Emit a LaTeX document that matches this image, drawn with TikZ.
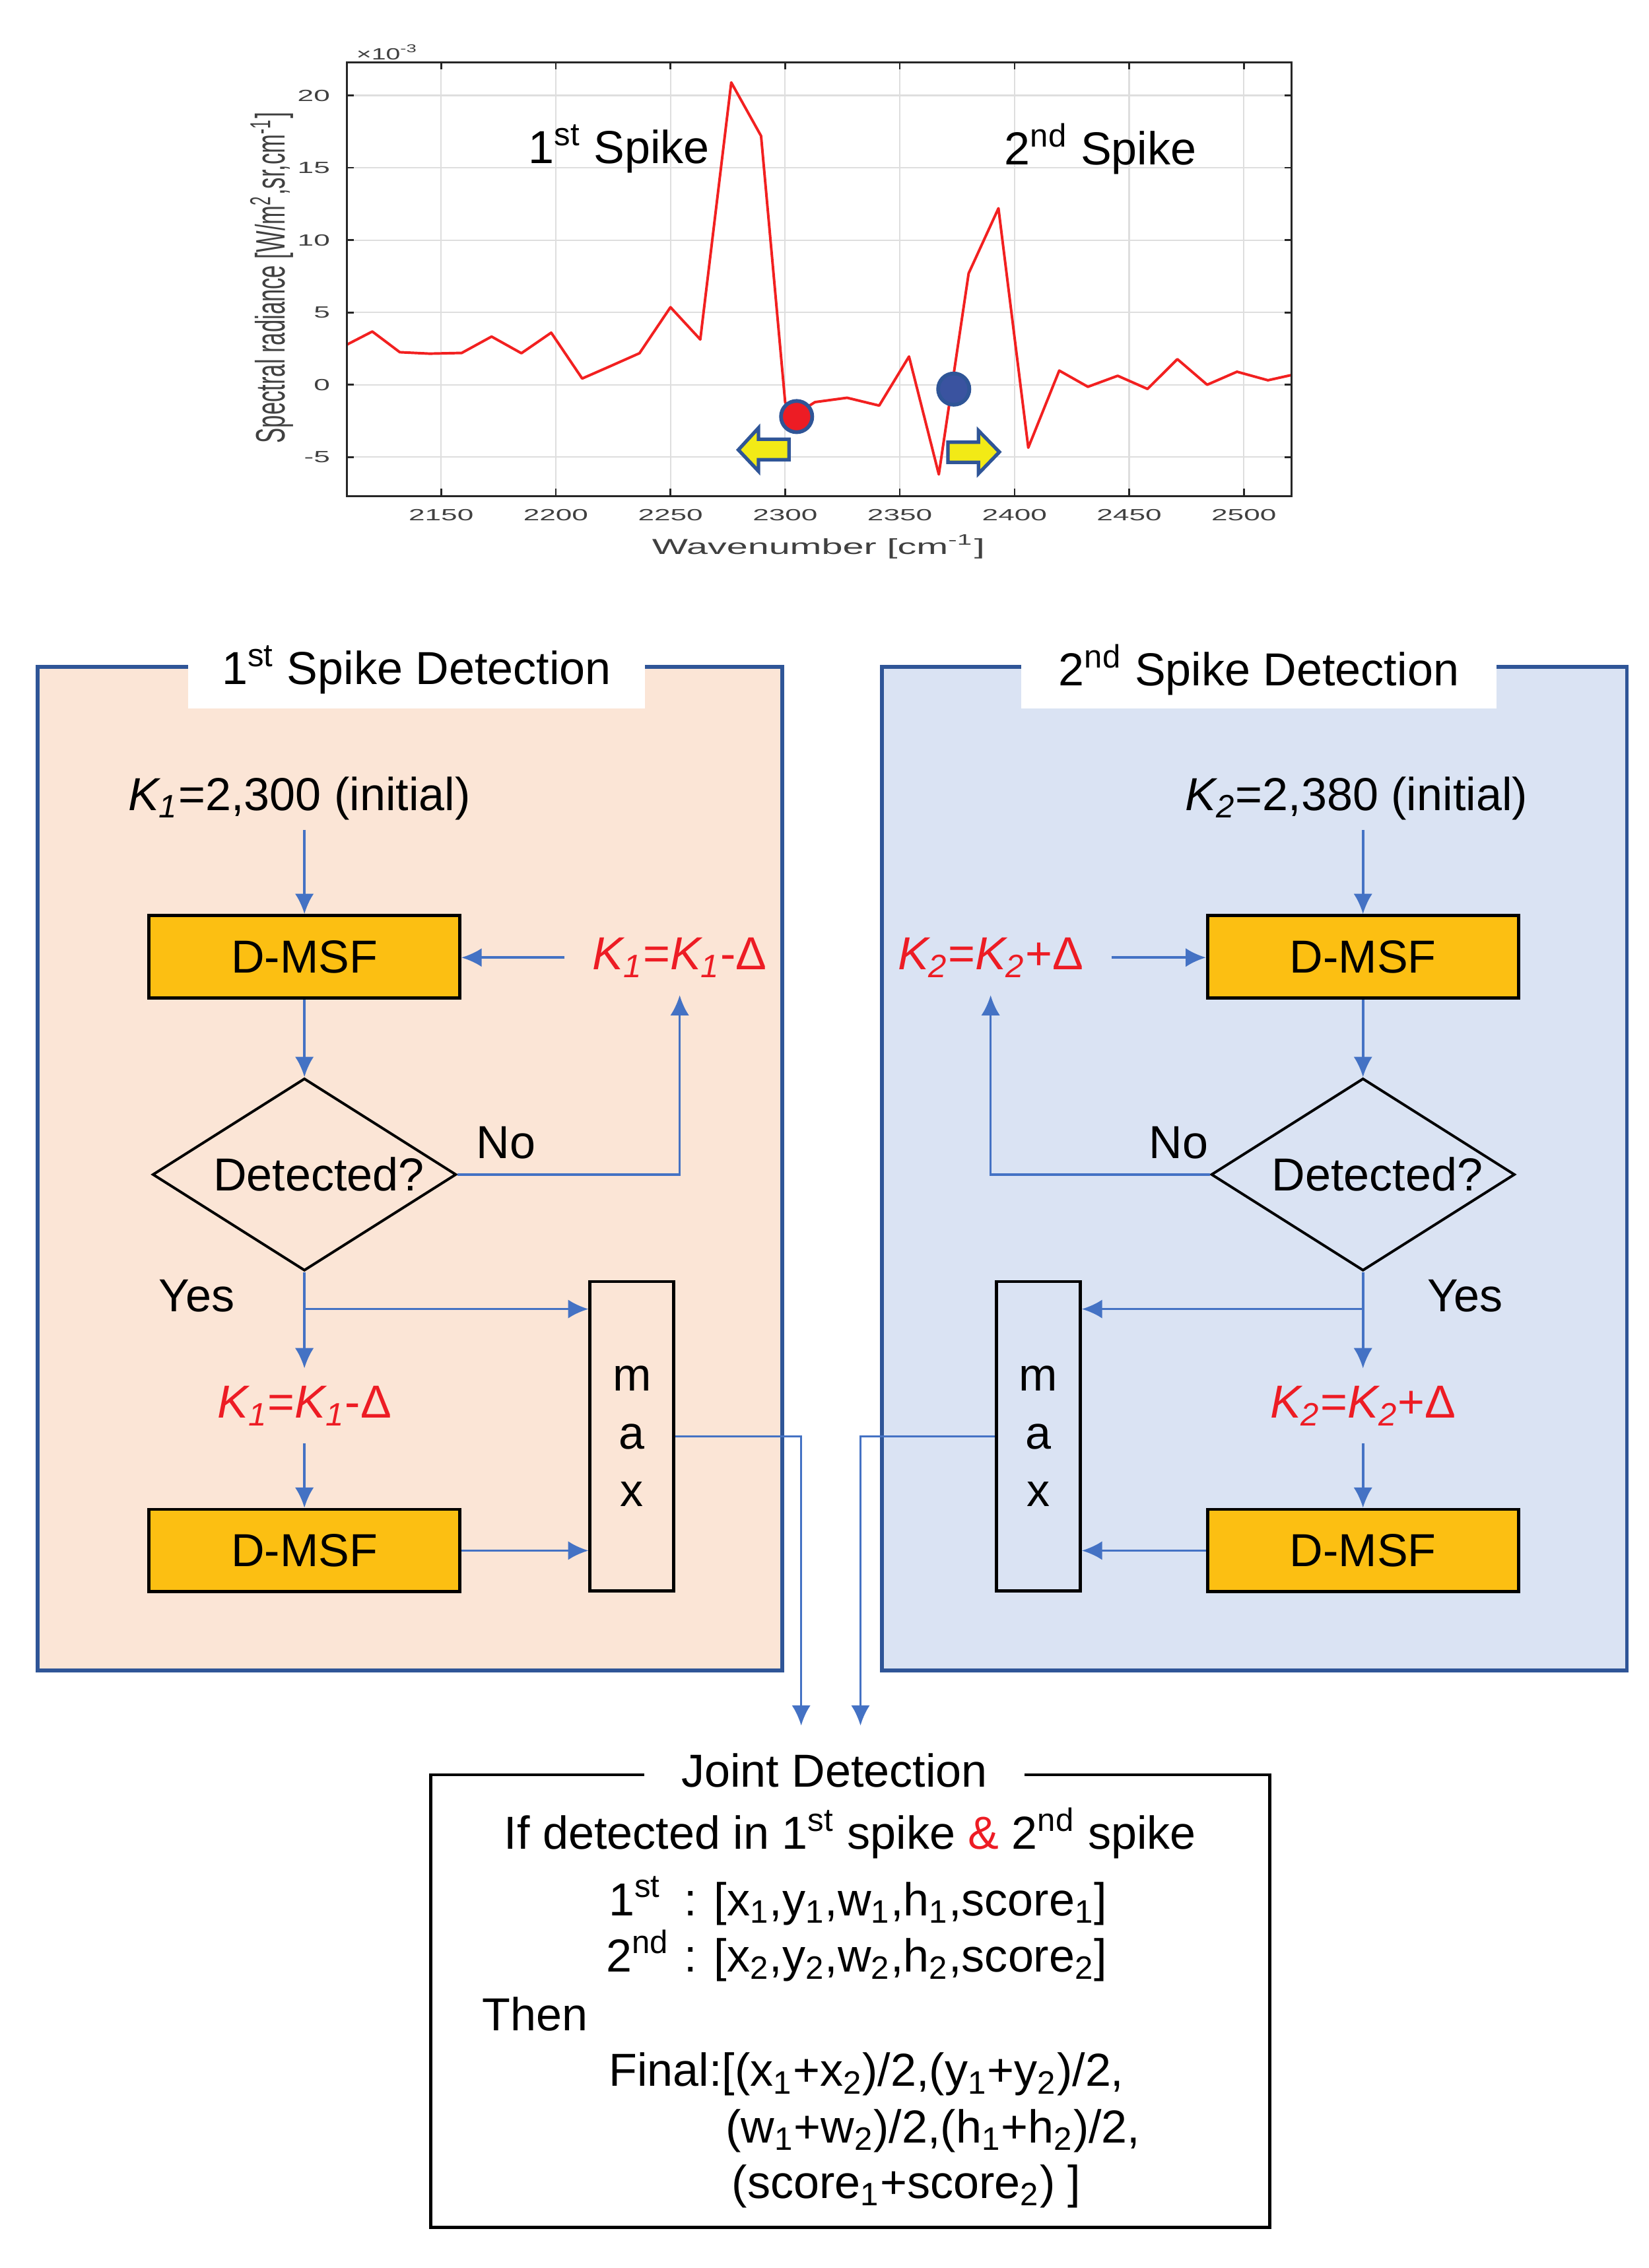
\documentclass[tikz,border=0pt]{standalone}
\usepackage{fontspec}
\setmainfont{Liberation Sans}
\usetikzlibrary{shapes.geometric,arrows.meta,positioning}

\definecolor{peach}{RGB}{251,229,214}
\definecolor{paleblue}{RGB}{218,227,243}
\definecolor{frameblue}{RGB}{47,85,151}
\definecolor{flowblue}{RGB}{68,114,196}
\definecolor{msfyellow}{RGB}{252,191,18}
\definecolor{alertred}{RGB}{237,28,36}
\definecolor{curvered}{RGB}{242,32,32}
\definecolor{arrowyellow}{RGB}{242,234,22}
\definecolor{dotblue}{RGB}{58,83,160}
\definecolor{axisgray}{RGB}{38,38,38}
\definecolor{labelgray}{RGB}{64,64,64}
\definecolor{gridgray}{RGB}{222,222,222}

\tikzset{
  panel/.style={draw=frameblue, line width=1.3pt},
  paneltitle/.style={fill=white, minimum height=27pt, inner sep=0pt},
  msf/.style={draw=black, line width=1.1pt, fill=msfyellow, minimum width=107.5pt, minimum height=28.5pt},
  detect/.style={diamond, draw=black, line width=0.9pt, aspect=1.58, inner sep=0pt, minimum width=105pt, minimum height=66.5pt},
  update/.style={text=alertred, inner xsep=9.5pt, inner ysep=6pt},
  maxbox/.style={draw=black, line width=1.1pt, minimum width=29pt, minimum height=107pt, align=center, font=\fontsize{16}{20}\selectfont},
  flow/.style={draw=flowblue, line width=0.8pt, ->},
  jointframe/.style={draw=black, line width=1.1pt},
  jtext/.style={anchor=base west, inner sep=0pt},
  gridline/.style={draw=gridgray, line width=0.5pt},
  axisline/.style={draw=axisgray, line width=0.6pt},
  ticklabel/.style={text=labelgray, font=\fontsize{5.6}{7}\selectfont},
  spectrum/.style={draw=curvered, line width=0.9pt, line join=round},
  shiftarrow/.style={fill=arrowyellow, draw=frameblue, line width=1.2pt, line join=miter},
}

\begin{document}
\begin{tikzpicture}[x=0.5pt,y=-0.5pt,>={Latex[length=7pt,width=6.5pt]},font=\fontsize{16}{19}\selectfont]
\useasboundingbox (0,0) rectangle (1140,1568);

% spectrum plot
\begin{scope}[shift={(240,266)},x=0.793pt,y=5pt,shift={(-2109,0)}]
\foreach \w in {2150,2200,...,2500}
  \draw[gridline] (\w,-7.7) -- (\w,22.3);
\foreach \v in {-5,0,...,20}
  \draw[gridline] (2109,\v) -- (2520.7,\v);
\draw[spectrum] (2109,2.78) -- (2120,3.68) -- (2132,2.25) -- (2145,2.15) -- (2159,2.2)
  -- (2172,3.33) -- (2185,2.18) -- (2198,3.6) -- (2211.5,0.43) -- (2224,1.3)
  -- (2236.5,2.18) -- (2250,5.36) -- (2263,3.13) -- (2276.5,20.9) -- (2289.5,17.2)
  -- (2300,-1.2) -- (2303,-2.2) -- (2313,-1.2) -- (2327,-0.9) -- (2341,-1.44)
  -- (2354,1.95) -- (2367,-6.2) -- (2380,7.7) -- (2393,12.2) -- (2406,-4.35)
  -- (2419.5,0.98) -- (2432,-0.14) -- (2445,0.62) -- (2458,-0.29) -- (2471,1.77)
  -- (2484,0) -- (2497,0.9) -- (2510.5,0.31) -- (2520.7,0.67);
\draw[axisline] (2109,-7.7) rectangle (2520.7,22.3);
\foreach \w in {2150,2200,...,2500} {
  \draw[axisline] (\w,-7.7) -- ++(0,0.5) (\w,22.3) -- ++(0,-0.5);
  \node[ticklabel] at (\w,-9) {\scalebox{1.8}[1]{\w}};
}
\foreach \v in {-5,0,...,20} {
  \draw[axisline] (2109,\v) -- ++(3,0) (2520.7,\v) -- ++(-3,0);
  \node[ticklabel,anchor=east] at (2106,\v) {\scalebox{1.8}[1]{\v}};
}
% search start points and directions
\filldraw[fill=alertred, draw=frameblue, line width=1.3pt] (2305,-2.2) circle[radius=5.4pt];
\filldraw[fill=dotblue, draw=frameblue, line width=1.3pt] (2373.5,-0.3) circle[radius=5.4pt];
\filldraw[shiftarrow] (2279.6,-4.5) -- (2288.4,-2.98) -- (2288.4,-3.77) -- (2301.7,-3.77)
  -- (2301.7,-5.18) -- (2288.4,-5.18) -- (2288.4,-5.98) -- cycle;
\filldraw[shiftarrow] (2371,-3.97) -- (2384.3,-3.97) -- (2384.3,-3.17) -- (2393.4,-4.65)
  -- (2384.3,-6.14) -- (2384.3,-5.36) -- (2371,-5.36) -- cycle;
\end{scope}
\node[ticklabel] (expo) at (268,36) {\scalebox{1.6}[1]{×10\textsuperscript{-3}}};
\node[text=labelgray, rotate=90, font=\fontsize{7.9}{9}\selectfont] (ylab) at (188,192)
  {\scalebox{1}[1.8]{Spectral radiance [W/m\textsuperscript{2},sr,cm\textsuperscript{-1}]}};
\node[text=labelgray, font=\fontsize{7.5}{9}\selectfont] (xlab) at (566,378)
  {\scalebox{1.75}[1]{Wavenumber [cm\textsuperscript{-1}]}};
\node (spike1) at (428,103) {1\textsuperscript{st} Spike};
\node (spike2) at (761,103) {2\textsuperscript{nd} Spike};

% 1st spike detection
\draw[panel, fill=peach] (26,461) rectangle (541,1155);
\node[paneltitle, minimum width=158pt] (title1) at (288,463) {1\textsuperscript{st} Spike Detection};
\node (init1) at (207,552) {\textit{K\textsubscript{1}}=2,300 (initial)};
\node[msf] (msf1) at (210.5,661.5) {D-MSF};
\node[update] (dec1) at (470,662) {\textit{K\textsubscript{1}}=\textit{K\textsubscript{1}}-Δ};
\node[detect] (det1) at (210.5,812) {\hspace*{10pt}Detected?};
\node (no1) at (350,790) {No};
\node (yes1) at (136,896) {Yes};
\node[update] (dec1b) at (210.5,972) {\textit{K\textsubscript{1}}=\textit{K\textsubscript{1}}-Δ};
\node[msf] (msf1b) at (210.5,1072) {D-MSF};
\node[maxbox] (max1) at (437,993) {m\\a\\x};
\coordinate (split1) at (210.5,905);
\coordinate (in1) at (554,1193);
\draw[flow] (init1.south -| msf1.north) -- (msf1.north);
\draw[flow] (dec1.west) -- (dec1.west -| msf1.east);
\draw[flow] (msf1.south) -- (det1.north);
\draw[flow] (det1.east) -| (dec1.south);
\draw[flow] (det1.south) -- (dec1b.north);
\draw[flow] (split1) -- (split1 -| max1.west);
\draw[flow] (dec1b.south) -- (msf1b.north);
\draw[flow] (msf1b.east) -- (msf1b.east -| max1.west);
\draw[flow] (max1.east) -| (in1);

% 2nd spike detection
\draw[panel, fill=paleblue] (610,461) rectangle (1125,1155);
\node[paneltitle, minimum width=164.5pt] (title2) at (870.5,463) {2\textsuperscript{nd} Spike Detection};
\node (init2) at (938,552) {\textit{K\textsubscript{2}}=2,380 (initial)};
\node[msf] (msf2) at (942.5,661.5) {D-MSF};
\node[update] (inc2) at (685,662) {\textit{K\textsubscript{2}}=\textit{K\textsubscript{2}}+Δ};
\node[detect] (det2) at (942.5,812) {\hspace*{10pt}Detected?};
\node (no2) at (815,790) {No};
\node (yes2) at (1013,896) {Yes};
\node[update] (inc2b) at (942.5,972) {\textit{K\textsubscript{2}}=\textit{K\textsubscript{2}}+Δ};
\node[msf] (msf2b) at (942.5,1072) {D-MSF};
\node[maxbox] (max2) at (718,993) {m\\a\\x};
\coordinate (split2) at (942.5,905);
\coordinate (in2) at (595,1193);
\draw[flow] (init2.south -| msf2.north) -- (msf2.north);
\draw[flow] (inc2.east) -- (inc2.east -| msf2.west);
\draw[flow] (msf2.south) -- (det2.north);
\draw[flow] (det2.west) -| (inc2.south);
\draw[flow] (det2.south) -- (inc2b.north);
\draw[flow] (split2) -- (split2 -| max2.east);
\draw[flow] (inc2b.south) -- (msf2b.north);
\draw[flow] (msf2b.west) -- (msf2b.west -| max2.east);
\draw[flow] (max2.west) -| (in2);

% joint detection
\draw[jointframe] (298,1227) rectangle (878,1540);
\node[fill=white, inner xsep=12.75pt, inner ysep=2pt] (jtitle) at (577,1224) {Joint Detection};
\node[jtext] (jif) at (348.3,1278.5)
  {If detected in 1\textsuperscript{st} spike {\color{alertred}\&} 2\textsuperscript{nd} spike};
\node[jtext] (jfirst) at (420.6,1324.4)
  {\makebox[26pt][l]{1\textsuperscript{st}}: [x\textsubscript{1},y\textsubscript{1},w\textsubscript{1},h\textsubscript{1},score\textsubscript{1}]};
\node[jtext] (jsecond) at (418.7,1363.1)
  {\makebox[27pt][l]{2\textsuperscript{nd}}: [x\textsubscript{2},y\textsubscript{2},w\textsubscript{2},h\textsubscript{2},score\textsubscript{2}]};
\node[jtext] (jthen) at (333.2,1403.8) {Then};
\node[jtext] (jfinal) at (420.6,1442.3)
  {Final:[(x\textsubscript{1}+x\textsubscript{2})/2,(y\textsubscript{1}+y\textsubscript{2})/2,};
\node[jtext] (jwh) at (501.3,1481.3)
  {(w\textsubscript{1}+w\textsubscript{2})/2,(h\textsubscript{1}+h\textsubscript{2})/2,};
\node[jtext] (jscore) at (505.8,1519.6)
  {(score\textsubscript{1}+score\textsubscript{2}) ]};
\end{tikzpicture}
\end{document}
